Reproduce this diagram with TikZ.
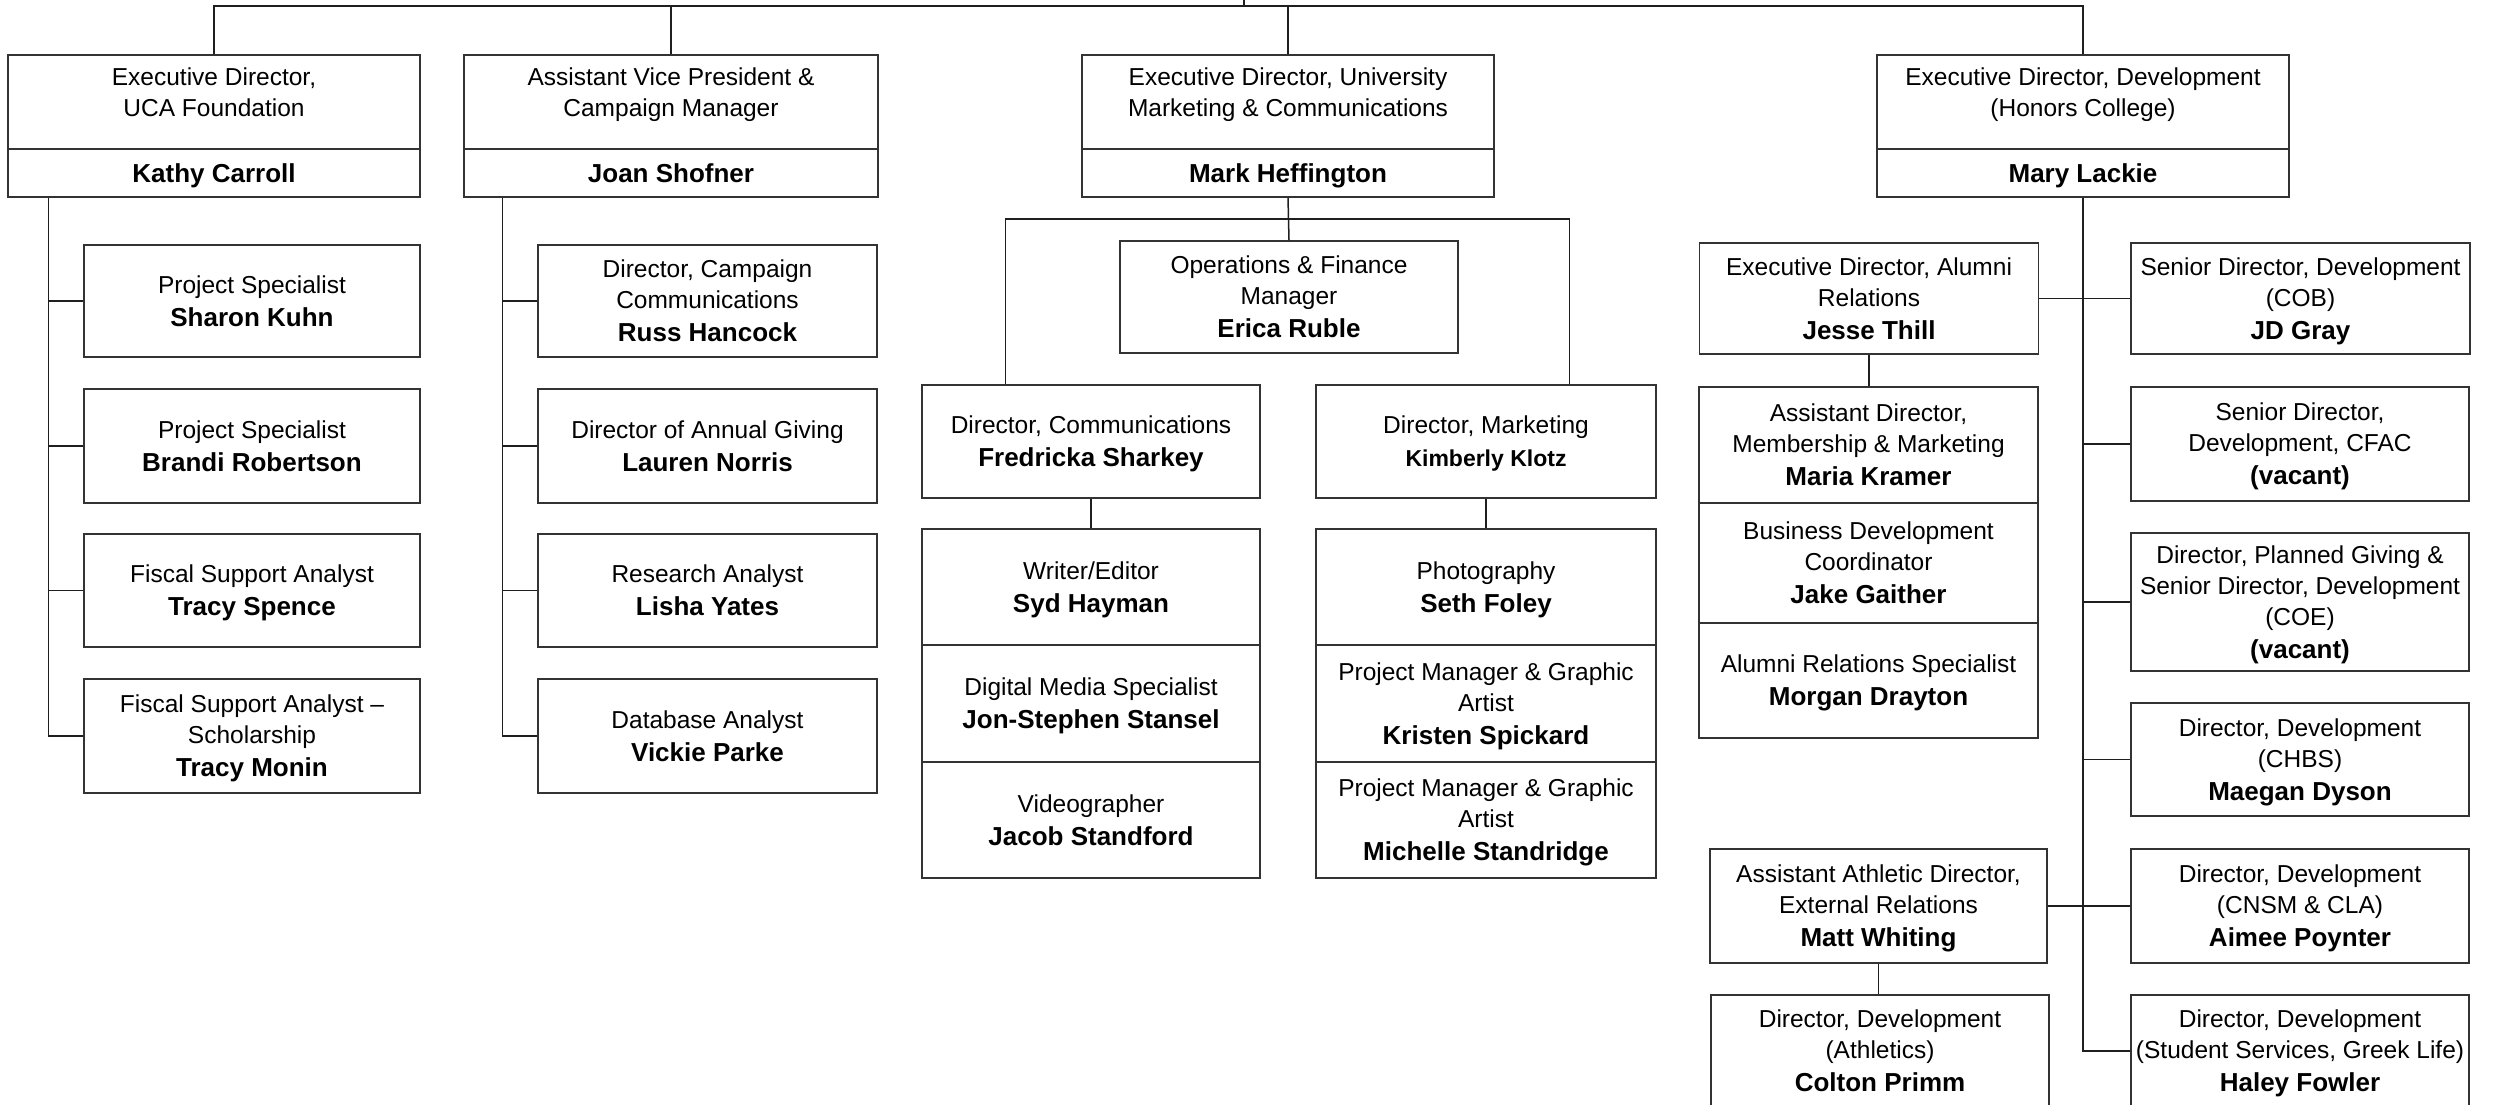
\documentclass[tikz,border=0pt]{standalone}
\usepackage{fontspec}
\setmainfont{Liberation Sans}
\newcommand\orgrg{\fontsize{24.5}{31}\selectfont}
\newcommand\orgnm[1]{{\fontsize{26}{31}\selectfont\bfseries #1}}
\newcommand\orgnms[1]{{\fontsize{23}{31}\selectfont\bfseries #1}}
\begin{document}
\begin{tikzpicture}[x=1pt,y=-1pt,
  box/.style={draw=black!80, line width=1.5pt, inner sep=0pt, align=center, font=\orgrg, fill=white, text depth=0pt},
  ttl/.style={inner sep=0pt, align=center, font=\orgrg, anchor=north},
  conn/.style={draw=black!88, line width=1.5pt},
  boxL/.style={box, minimum width=336pt},
  boxJ/.style={box, minimum width=339pt},
  boxM/.style={box, minimum width=338pt},
  boxK/.style={box, minimum width=340pt},
  boxR/.style={box, minimum width=338pt},
]
\useasboundingbox (0,0) rectangle (2497,1105);
\clip (0,0) rectangle (2497,1105);

% ---- heads
\node[box, minimum width=412pt, minimum height=94pt] (kathyT) at (214,102) {};
\node[box, minimum width=412pt, minimum height=48pt] (kathyN) at (214,173) {\orgnm{Kathy Carroll}};
\node[ttl] (kathyTt) at (214,68) {Executive Director,\\UCA Foundation};

\node[box, minimum width=414pt, minimum height=94pt] (joanT) at (671,102) {};
\node[box, minimum width=414pt, minimum height=48pt] (joanN) at (671,173) {\orgnm{Joan Shofner}};
\node[ttl] (joanTt) at (671,68) {Assistant Vice President \&\\Campaign Manager};

\node[box, minimum width=412pt, minimum height=94pt] (markT) at (1288,102) {};
\node[box, minimum width=412pt, minimum height=48pt] (markN) at (1288,173) {\orgnm{Mark Heffington}};
\node[ttl] (markTt) at (1288,68) {Executive Director, University\\Marketing \& Communications};

\node[box, minimum width=412pt, minimum height=94pt] (maryT) at (2083,102) {};
\node[box, minimum width=412pt, minimum height=48pt] (maryN) at (2083,173) {\orgnm{Mary Lackie}};
\node[ttl] (maryTt) at (2083,68) {Executive Director, Development\\(Honors College)};

% ---- Kathy column
\node[boxL, minimum height=112pt] (sharon) at (252,301) {Project Specialist\\[2pt]\orgnm{Sharon Kuhn}};
\node[boxL, minimum height=114pt] (brandi) at (252,446) {Project Specialist\\[2pt]\orgnm{Brandi Robertson}};
\node[boxL, minimum height=113pt] (tspence) at (252,590.5) {Fiscal Support Analyst\\[2pt]\orgnm{Tracy Spence}};
\node[boxL, minimum height=114pt] (tmonin) at (252,736) {Fiscal Support Analyst --\\Scholarship\\[2pt]\orgnm{Tracy Monin}};

% ---- Joan column
\node[boxJ, minimum height=112pt] (russ) at (707.5,301) {Director, Campaign\\Communications\\[2pt]\orgnm{Russ Hancock}};
\node[boxJ, minimum height=114pt] (lauren) at (707.5,446) {Director of Annual Giving\\[2pt]\orgnm{Lauren Norris}};
\node[boxJ, minimum height=113pt] (lisha) at (707.5,590.5) {Research Analyst\\[2pt]\orgnm{Lisha Yates}};
\node[boxJ, minimum height=114pt] (vickie) at (707.5,736) {Database Analyst\\[2pt]\orgnm{Vickie Parke}};

% ---- Mark group
\node[boxM, minimum height=112pt] (erica) at (1289,297) {Operations \& Finance\\Manager\\[2pt]\orgnm{Erica Ruble}};
\node[boxM, minimum height=113pt] (fred) at (1091,441.5) {Director, Communications\\[2pt]\orgnm{Fredricka Sharkey}};
\node[boxK, minimum height=113pt] (kim) at (1486,441.5) {Director, Marketing\\[2pt]\orgnms{Kimberly Klotz}};

\node[boxM, minimum height=116pt] (syd) at (1091,587) {Writer/Editor\\[2pt]\orgnm{Syd Hayman}};
\node[boxM, minimum height=117pt] (jon) at (1091,703.5) {Digital Media Specialist\\[2pt]\orgnm{Jon-Stephen Stansel}};
\node[boxM, minimum height=116pt] (jacob) at (1091,820) {Videographer\\[2pt]\orgnm{Jacob Standford}};

\node[boxK, minimum height=116pt] (seth) at (1486,587) {Photography\\[2pt]\orgnm{Seth Foley}};
\node[boxK, minimum height=117pt] (kristen) at (1486,703.5) {Project Manager \& Graphic\\Artist\\[2pt]\orgnm{Kristen Spickard}};
\node[boxK, minimum height=116pt] (michelle) at (1486,820) {Project Manager \& Graphic\\Artist\\[2pt]\orgnm{Michelle Standridge}};

% ---- Mary group
\node[boxJ, minimum height=111pt] (jesse) at (1869,298.5) {Executive Director, Alumni\\Relations\\[2pt]\orgnm{Jesse Thill}};
\node[boxJ, minimum height=111pt] (jd) at (2300.5,298.5) {Senior Director, Development\\(COB)\\[2pt]\orgnm{JD Gray}};

\node[boxJ, minimum height=116pt] (maria) at (1868.5,445) {Assistant Director,\\Membership \& Marketing\\[2pt]\orgnm{Maria Kramer}};
\node[boxJ, minimum height=120pt] (jake) at (1868.5,563) {Business Development\\Coordinator\\[2pt]\orgnm{Jake Gaither}};
\node[boxJ, minimum height=115pt] (morgan) at (1868.5,680.5) {Alumni Relations Specialist\\[2pt]\orgnm{Morgan Drayton}};

\node[boxR, minimum height=114pt] (cfac) at (2300,444) {Senior Director,\\Development, CFAC\\[2pt]\orgnm{(vacant)}};
\node[boxR, minimum height=138pt] (planned) at (2300,602) {Director, Planned Giving \&\\Senior Director, Development\\(COE)\\[2pt]\orgnm{(vacant)}};
\node[boxR, minimum height=113pt] (chbs) at (2300,759.5) {Director, Development\\(CHBS)\\[2pt]\orgnm{Maegan Dyson}};
\node[boxR, minimum height=114pt] (aimee) at (2300,906) {Director, Development\\(CNSM \& CLA)\\[2pt]\orgnm{Aimee Poynter}};
\node[boxR, minimum height=112pt] (haley) at (2300,1051) {Director, Development\\(Student Services, Greek Life)\\[2pt]\orgnm{Haley Fowler}};

\node[box, minimum width=337pt, minimum height=114pt] (matt) at (1878.5,906) {Assistant Athletic Director,\\External Relations\\[2pt]\orgnm{Matt Whiting}};
\node[boxR, minimum height=112pt] (colton) at (1880,1051) {Director, Development\\(Athletics)\\[2pt]\orgnm{Colton Primm}};

% ---- connectors
\coordinate (root) at (1244,0);
\coordinate (bus) at (1244,6);
\draw[conn] (root) -- (bus);
\draw[conn] (kathyT.north) |- (bus) -| (maryT.north);
\draw[conn] (joanT.north) -- (joanT.north |- bus);
\draw[conn] (markT.north) -- (markT.north |- bus);

\foreach \n in {sharon,brandi,tspence,tmonin}
  \draw[conn] ([xshift=41pt]kathyN.south west) |- (\n.west);
\foreach \n in {russ,lauren,lisha,vickie}
  \draw[conn] ([xshift=39pt]joanN.south west) |- (\n.west);

\coordinate (mbus) at ([yshift=-21pt]markN.south);
\draw[conn] (markN.south) -- (erica.north);
\draw[conn] ([xshift=84pt]fred.north west) |- (mbus) -| ([xshift=254pt]kim.north west);
\draw[conn] (fred.south) -- (syd.north);
\draw[conn] (kim.south) -- (seth.north);

\draw[conn] (maryN.south) -- (maryN.south |- haley.west) -- (haley.west);
\foreach \n in {cfac,planned,chbs}
  \draw[conn] (maryN.south |- \n.west) -- (\n.west);
\draw[conn] (jesse.east) -- (jd.west);
\draw[conn] (matt.east) -- (aimee.west);
\draw[conn] (jesse.south) -- (jesse.south |- maria.north);
\draw[conn] (matt.south) -- (matt.south |- colton.north);
\end{tikzpicture}
\end{document}
